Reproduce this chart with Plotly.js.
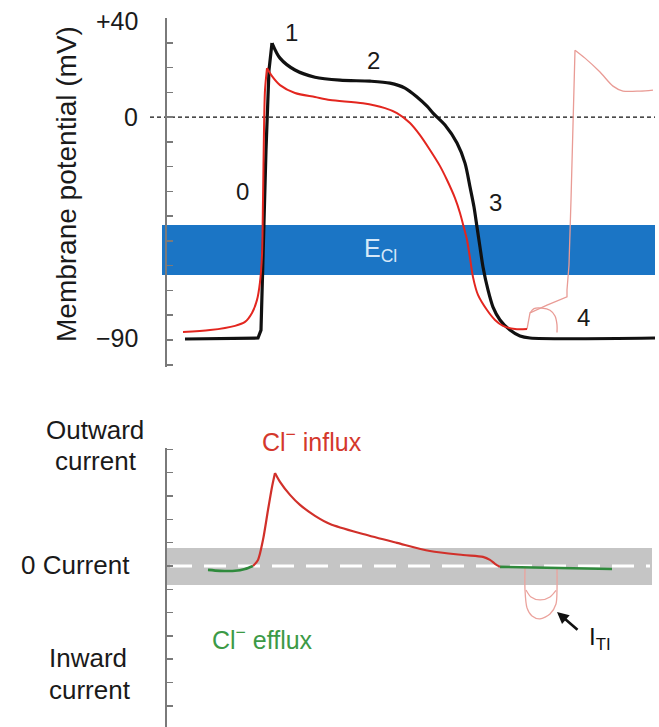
<!DOCTYPE html>
<html>
<head>
<meta charset="utf-8">
<script src="https://cdn.plot.ly/plotly-3.0.1.min.js"></script>
<style>html,body{margin:0;padding:0;background:#fff;}#chart{width:659px;height:727px;}</style>
</head>
<body>
<div id="chart"></div>
<script>
// ---- Data (time in ms, membrane potential in mV) ----
var controlT = [25, 98, 101, 103, 106, 109, 112, 120, 135, 155, 180, 210, 230, 245, 257, 267, 273, 285, 297, 305, 310, 314, 317, 320, 323, 328, 333, 340, 350, 360, 370, 495];
var controlV = [-89.6, -89.2, -86.0, -53.7, -13.3, 19.0, 29.9, 23.8, 19.0, 16.1, 14.9, 14.5, 13.7, 11.7, 8.1, 4.4, 1.6, -3.2, -10.5, -18.6, -28.2, -36.3, -44.4, -52.5, -60.5, -69.8, -76.7, -81.9, -86.0, -88.4, -89.2, -89.2];

var modT = [23, 50, 75, 85, 92, 97, 100, 102, 103, 104, 105, 107, 112, 120, 135, 155, 170, 203, 225, 237, 250, 260, 270, 280, 287, 295, 300, 304, 307, 310, 313, 318, 327, 335, 343, 355, 367];
var modV = [-86.8, -86.0, -84.3, -82.7, -79.1, -73.8, -66.6, -55.7, -33.5, -5.2, 10.9, 19.8, 16.5, 12.9, 9.7, 8.1, 6.9, 5.6, 3.6, 1.6, -2.4, -7.3, -13.3, -19.8, -25.4, -32.7, -38.7, -44.8, -49.6, -56.9, -64.6, -71.8, -77.9, -81.9, -84.3, -85.6, -85.6];

var triggeredT = [367, 370, 387, 407, 407, 409, 411, 413, 415, 425, 440, 453, 463, 480, 493];
var triggeredV = [-85.6, -79.1, -75.9, -72.6, -69.8, -59.7, -33.5, -1.2, 27.0, 23.8, 18.2, 12.5, 10.5, 10.5, 10.9];

var dadT = [370, 374, 382, 390, 395, 397, 397];
var dadV = [-79.1, -77.3, -77.1, -78.0, -80.3, -83.9, -87.0];

var eclLow = -63.8, eclHigh = -43.6;

// ---- Current (arbitrary units) ----
var efflux1T = [48, 60, 75, 85, 93];
var efflux1I = [-0.17, -0.21, -0.21, -0.13, 0];
var influxT = [93, 98, 103, 108, 112, 115, 120, 130, 140, 155, 170, 203, 237, 270, 303, 323, 330, 335, 340];
var influxI = [0, 0.26, 1.12, 2.40, 3.39, 3.99, 3.61, 3.05, 2.62, 2.15, 1.80, 1.37, 0.99, 0.64, 0.47, 0.39, 0.26, 0.09, -0.04];
var efflux2T = [340, 400, 452];
var efflux2I = [-0.04, -0.09, -0.13];
var itiOuterT = [365, 365, 367, 372, 380, 390, 396, 397, 397];
var itiOuterI = [-0.09, -1.03, -1.8, -2.15, -2.27, -2.06, -1.63, -1.03, -0.13];
var itiInnerT = [366, 371, 380, 390, 396];
var itiInnerI = [-1.03, -1.33, -1.46, -1.33, -1.05];
var zeroBandLow = -0.82, zeroBandHigh = 0.77;

var vTickLabels = ['+40', '0', '\u221290'];
var vTickValues = [40, 0, -90];

// ---- Layout helpers ----
var W = 659, H = 727;
function px(x) { return x / W; }
function py(y) { return 1 - y / H; }
var FONT = 'Liberation Sans, Arial, Helvetica, sans-serif';
var TXT = '#1a1a1a';

function line(x, y, color, width, yaxis, shape) {
  return {x: x, y: y, mode: 'lines', yaxis: yaxis || 'y', xaxis: 'x',
          line: {color: color, width: width, shape: shape || 'spline', smoothing: 0.8},
          hoverinfo: 'skip', showlegend: false};
}
function peakIndex(arr) {
  var k = 0;
  for (var i = 1; i < arr.length; i++) if (arr[i] > arr[k]) k = i;
  return k;
}
// split each trace at its peak so the peak stays sharp
function splitAtPeak(t, v, color, width, yaxis, preShape) {
  var k = peakIndex(v);
  return [line(t.slice(0, k + 1), v.slice(0, k + 1), color, width, yaxis, preShape),
          line(t.slice(k), v.slice(k), color, width, yaxis, 'spline')];
}

var traces = [].concat(
  [line(dadT, dadV, '#e99b95', 1.3)],
  splitAtPeak(triggeredT, triggeredV, '#e99b95', 1.3, 'y', 'linear'),
  splitAtPeak(controlT, controlV, '#111111', 3.2, 'y', 'linear'),
  splitAtPeak(modT, modV, '#e3261f', 2, 'y', 'spline'),
  [line(itiOuterT, itiOuterI, '#eba39d', 1.3, 'y2'),
   line(itiInnerT, itiInnerI, '#eba39d', 1.3, 'y2'),
   line(efflux1T, efflux1I, '#2f8a3c', 2.6, 'y2'),
   line(efflux2T, efflux2I, '#2f8a3c', 2.6, 'y2')],
  splitAtPeak(influxT, influxI, '#d1302a', 2.2, 'y2', 'spline')
);

var axisCommon = {anchor: 'free', position: 166 / W, showgrid: false, zeroline: false,
  showline: true, linecolor: '#7a7a7a', linewidth: 2, ticks: 'inside', ticklen: 6,
  tickwidth: 1.5, tickcolor: '#7a7a7a', showticklabels: false, tickmode: 'linear', fixedrange: true};

var annotations = [];
function txt(text, x, y, size, color, opts) {
  var a = {text: text, x: px(x), y: py(y), xref: 'paper', yref: 'paper', showarrow: false,
           font: {family: FONT, size: size, color: color || TXT}, xanchor: 'center', yanchor: 'middle'};
  if (opts) for (var k in opts) a[k] = opts[k];
  annotations.push(a);
}
var tickPx = {};
tickPx[40] = 21; tickPx[0] = 117; tickPx[-90] = 338;
for (var i = 0; i < vTickValues.length; i++) {
  txt(vTickLabels[i], 140, tickPx[vTickValues[i]], 25, TXT, {xanchor: 'right'});
}
txt('Membrane potential (mV)', 66, 184, 28, TXT, {textangle: -90});
txt('1', 291, 32, 24);
txt('2', 373, 61, 24);
txt('0', 242, 191, 24);
txt('3', 495, 202, 24);
txt('4', 583, 317, 24);
txt('E<sub>Cl</sub>', 362, 250, 25, '#d6e8f8', {xanchor: 'left'});

txt('Outward', 95, 430, 26);
txt('current', 96, 461, 26);
txt('0 Current', 75, 565, 26);
txt('Inward', 88, 658, 26);
txt('current', 90, 690, 26);
txt('Cl<sup>\u2212</sup> influx', 260, 440, 25, '#d4382c', {xanchor: 'left'});
txt('Cl<sup>\u2212</sup> efflux', 210, 638, 25, '#3c9a46', {xanchor: 'left'});
txt('I<sub>TI</sub>', 587, 638, 24, '#111', {xanchor: 'left'});
annotations.push({x: px(557), y: py(612), xref: 'paper', yref: 'paper', ax: 22, ay: 19, text: '',
  showarrow: true, arrowhead: 2, arrowsize: 0.9, arrowwidth: 2.6, arrowcolor: '#111'});

var layout = {
  width: W, height: H, margin: {l: 0, r: 0, t: 0, b: 0},
  paper_bgcolor: '#ffffff', plot_bgcolor: 'rgba(0,0,0,0)',
  showlegend: false,
  xaxis: {domain: [0, 1], range: [-160, 499], visible: false, fixedrange: true},
  yaxis: Object.assign({}, axisCommon, {domain: [py(367), py(18)], range: [-100.9, 40], tick0: 0, dtick: 10}),
  yaxis2: Object.assign({}, axisCommon, {domain: [0, py(448)], range: [-6.91, 5.06], tick0: 0, dtick: 1}),
  shapes: [
    {type: 'rect', xref: 'x', yref: 'y', x0: 2, x1: 495, y0: eclLow, y1: eclHigh,
     fillcolor: '#1b75c5', line: {width: 0}, layer: 'below'},
    {type: 'line', xref: 'x', yref: 'y', x0: -10, x1: 495, y0: 0, y1: 0,
     line: {color: '#111', width: 1.3, dash: '4px,3px'}, layer: 'below'},
    {type: 'rect', xref: 'x', yref: 'y2', x0: 6, x1: 492, y0: zeroBandLow, y1: zeroBandHigh,
     fillcolor: '#c5c5c5', line: {width: 0}, layer: 'below'},
    {type: 'line', xref: 'x', yref: 'y2', x0: 10, x1: 490, y0: 0, y1: 0,
     line: {color: '#ffffff', width: 3, dash: '22px,12px'}, layer: 'below'}
  ],
  annotations: annotations
};

Plotly.newPlot('chart', traces, layout, {displayModeBar: false, staticPlot: true});
</script>
</body>
</html>
